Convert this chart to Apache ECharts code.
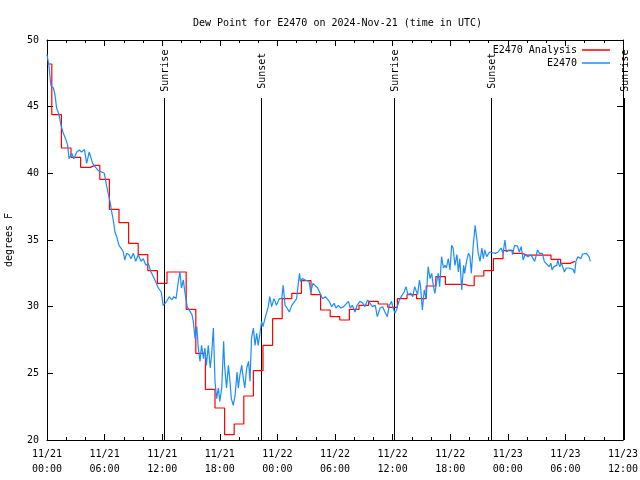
<!DOCTYPE html>
<html>
<head>
<meta charset="utf-8">
<script src="https://cdn.jsdelivr.net/npm/echarts@6/dist/echarts.min.js"></script>
<style>html,body{margin:0;padding:0;background:#fff}#c{width:640px;height:480px}</style>
</head>
<body>
<div id="c"></div>
<script>
// Hours since 2024-11-21 00:00 UTC
var xTickLabels = ['11/21\n00:00','11/21\n06:00','11/21\n12:00','11/21\n18:00','11/22\n00:00','11/22\n06:00','11/22\n12:00','11/22\n18:00','11/23\n00:00','11/23\n06:00','11/23\n12:00'];

// Analysis (hourly, hour 0..55)
var analysisValues = [48.2,44.4,41.9,41.2,40.45,40.6,39.55,37.3,36.3,34.75,33.9,32.7,31.75,32.6,32.6,29.8,26.5,23.8,22.4,20.4,21.2,23.3,25.2,27.1,29.1,30.6,31.0,31.95,30.9,29.75,29.25,29.0,29.8,30.1,30.4,30.2,29.95,30.6,30.9,30.6,31.55,32.25,31.67,31.67,31.57,32.3,32.7,33.6,34.2,34.0,33.87,33.87,33.87,33.55,33.25,33.4];

// Observations
var obsHours = [0,0.2,0.4,0.66,0.83,1.0,1.25,1.46,1.7,1.94,2.15,2.3,2.57,2.8,3.1,3.37,3.6,3.9,4.13,4.4,4.6,4.75,5.0,5.35,5.7,5.97,6.2,6.4,6.56,6.74,6.9,7.08,7.26,7.5,7.7,7.95,8.1,8.3,8.54,8.75,9.0,9.24,9.5,9.8,10.03,10.3,10.55,10.83,11.08,11.3,11.6,11.9,12.1,12.47,12.74,13.0,13.2,13.44,13.7,13.85,14.0,14.2,14.38,14.6,14.8,15.1,15.24,15.42,15.6,15.76,15.94,16.1,16.3,16.45,16.6,16.8,17.0,17.15,17.33,17.5,17.67,17.85,18.0,18.2,18.4,18.5,18.7,18.9,19.06,19.2,19.4,19.6,19.8,19.93,20.1,20.28,20.45,20.6,20.8,21.0,21.15,21.3,21.5,21.67,21.84,22.0,22.2,22.36,22.5,22.7,22.9,23.05,23.2,23.4,23.65,23.9,24.2,24.45,24.6,24.8,25.0,25.25,25.5,25.7,26.0,26.3,26.4,26.6,26.9,27.1,27.3,27.47,27.7,27.9,28.2,28.4,28.7,29.0,29.2,29.4,29.65,29.9,30.1,30.35,30.6,30.9,31.1,31.4,31.6,31.8,32.08,32.3,32.6,32.9,33.1,33.4,33.6,33.9,34.2,34.4,34.7,34.97,35.2,35.45,35.66,35.9,36.0,36.25,36.4,36.7,36.9,37.2,37.4,37.6,37.9,38.1,38.3,38.6,38.8,38.9,39.1,39.3,39.5,39.7,39.9,40.07,40.24,40.4,40.6,40.76,40.9,41.1,41.3,41.45,41.6,41.8,41.98,42.15,42.3,42.5,42.7,42.85,43.0,43.2,43.4,43.5,43.7,43.9,44.06,44.2,44.4,44.6,44.8,44.9,45.1,45.3,45.45,45.6,45.8,46.1,46.3,46.7,47.0,47.3,47.5,47.7,47.85,48.1,48.4,48.5,48.7,49.0,49.2,49.4,49.6,49.8,50.1,50.4,50.6,50.8,51.1,51.3,51.6,51.8,52.0,52.3,52.5,52.6,52.8,53.1,53.2,53.4,53.6,53.9,54.1,54.4,54.8,54.96,55.1,55.3,55.6,55.8,56.2,56.45,56.6];
var obsValues = [48.9,48.1,46.6,46.4,45.9,44.9,44.4,43.6,43.0,42.6,42.1,41.1,41.5,41.1,41.6,41.75,41.6,41.8,40.75,41.6,41.7,40.75,40.5,40.2,40.1,40.0,39.1,38.4,37.9,37.1,36.5,35.6,35.25,34.6,34.4,34.1,33.5,34.0,33.9,33.6,34.0,33.4,33.9,33.4,33.6,33.1,33.25,32.6,32.25,31.9,31.4,31.1,30.1,30.4,30.75,30.5,30.75,30.6,32.0,32.6,31.4,32.0,31.0,30.0,29.9,29.4,28.9,27.6,28.5,26.9,25.9,27.1,26.1,26.9,25.6,27.1,25.4,26.4,28.4,24.4,23.1,23.9,22.9,23.9,27.4,25.6,23.9,25.6,24.4,23.1,22.6,23.4,25.1,23.9,24.9,25.6,24.6,23.9,25.4,25.9,24.4,27.6,28.4,27.1,28.0,27.1,28.1,28.9,28.5,29.1,29.25,30.0,30.75,30.0,30.6,30.1,30.6,30.6,31.6,30.1,29.9,29.6,30.1,30.0,30.6,32.5,31.9,32.1,32.0,32.0,31.9,31.1,31.75,31.9,31.4,31.25,30.6,30.75,30.6,30.4,30.0,30.25,29.9,30.1,29.9,30.0,30.1,30.4,29.9,30.1,29.6,30.1,30.4,30.25,30.0,30.5,30.4,30.0,30.1,29.25,29.9,30.0,29.6,29.25,30.1,30.4,30.0,29.5,29.75,30.5,30.75,31.1,31.5,30.9,31.0,30.75,31.5,30.9,32.0,31.6,29.75,31.25,30.6,33.0,32.1,32.5,31.6,31.0,31.9,32.5,31.5,33.75,32.9,33.1,32.9,33.6,32.75,34.6,34.4,33.1,33.9,32.6,33.6,31.25,33.1,32.5,33.4,34.0,33.75,32.5,34.6,36.1,34.9,34.1,33.4,34.4,33.6,34.25,33.75,34.1,34.0,34.0,34.1,34.4,34.0,35.0,34.1,34.25,34.25,33.9,34.6,34.55,34.1,34.5,33.5,33.9,33.75,33.9,33.75,33.4,34.25,34.0,34.0,33.4,33.5,33.0,33.25,32.75,33.0,33.1,33.5,33.0,33.25,32.6,32.9,32.9,32.8,32.5,33.4,33.75,33.6,33.95,34.0,33.75,33.4];

// Sun events (hours)
var sunHours = [12.19, 22.29, 36.15, 46.25, 60.1];
var sunLabels = ['Sunrise','Sunset','Sunrise','Sunset','Sunrise'];

var FONT = 'DejaVu Sans Mono';
var analysisData = analysisValues.map(function(v,i){return [i,v];});
var obsData = obsHours.map(function(h,i){return [h,obsValues[i]];});
var sunData = sunHours.map(function(h,i){return [h,i];});

var chart = echarts.init(document.getElementById('c'), null, {renderer:'canvas'});
var axisCommon = {
  axisLine:{show:true,onZero:false,lineStyle:{color:'#000',width:1}},
  splitLine:{show:false}
};
chart.setOption({
  animation:false,
  backgroundColor:'#fff',
  title:{text:'Dew Point for E2470 on 2024-Nov-21 (time in UTC)',left:188,top:13,
    textStyle:{fontFamily:FONT,fontSize:10,fontWeight:'normal',color:'#000'}},
  legend:[
    {data:['E2470 Analysis'],right:25,top:40,align:'right',itemWidth:28,itemHeight:1.5,icon:'rect',itemGap:7,
      textStyle:{fontFamily:FONT,fontSize:10,color:'#000'}},
    {data:['E2470'],right:25,top:53,align:'right',itemWidth:28,itemHeight:1.5,icon:'rect',itemGap:7,
      textStyle:{fontFamily:FONT,fontSize:10,color:'#000'}}
  ],
  grid:{left:47,right:17,top:40,bottom:40,containLabel:false,outerBoundsMode:'none'},
  xAxis:[
    Object.assign({type:'value',position:'bottom',min:0,max:60,interval:6,
      axisTick:{show:true,inside:true,length:6,lineStyle:{color:'#000'}},
      minorTick:{show:true,splitNumber:3,length:3,lineStyle:{color:'#000'}},
      axisLabel:{fontFamily:FONT,fontSize:10,color:'#000',lineHeight:15,margin:7,
        formatter:function(v){return xTickLabels[Math.round(v/6)];}}},axisCommon),
    Object.assign({type:'value',position:'top',min:0,max:60,interval:6,
      axisTick:{show:true,inside:true,length:6,lineStyle:{color:'#000'}},
      minorTick:{show:true,splitNumber:3,length:3,lineStyle:{color:'#000'}},
      axisLabel:{show:false}},axisCommon)
  ],
  yAxis:[
    Object.assign({type:'value',position:'left',min:20,max:50,interval:5,
      name:'degrees F',nameLocation:'middle',nameGap:33,
      nameTextStyle:{fontFamily:FONT,fontSize:10,color:'#000'},
      axisTick:{show:true,inside:true,length:6,lineStyle:{color:'#000'}},
      axisLabel:{fontFamily:FONT,fontSize:10,color:'#000',margin:8}},axisCommon),
    Object.assign({type:'value',position:'right',min:20,max:50,interval:5,
      axisTick:{show:true,inside:true,length:6,lineStyle:{color:'#000'}},
      axisLabel:{show:false}},axisCommon)
  ],
  series:[
    {name:'E2470 Analysis',type:'line',data:analysisData,step:'middle',symbol:'none',
      itemStyle:{color:'#ff0000'},lineStyle:{color:'#ff0000',width:1.2},z:3},
    {name:'E2470',type:'line',data:obsData,symbol:'none',
      itemStyle:{color:'#1a8cff'},lineStyle:{color:'#1a8cff',width:1.2},z:4},
    {name:'sun',type:'custom',data:sunData,clip:false,silent:true,z:2,
      renderItem:function(params,api){
        var h = api.value(0);
        var label = sunLabels[api.value(1)];
        var pb = api.coord([h,20]);
        var pt = api.coord([h,45.65]);
        var pl = api.coord([h,47.7]);
        return {type:'group',children:[
          {type:'line',shape:{x1:Math.round(pb[0])+0.5,y1:pb[1],x2:Math.round(pt[0])+0.5,y2:pt[1]},
            style:{stroke:'#000',lineWidth:1}},
          {type:'text',x:pl[0]+1,y:pl[1],rotation:Math.PI/2,
            style:{text:label,font:'10px "'+FONT+'"',fill:'#000',align:'center',verticalAlign:'middle'}}
        ]};
      }}
  ]
});
</script>
</body>
</html>
